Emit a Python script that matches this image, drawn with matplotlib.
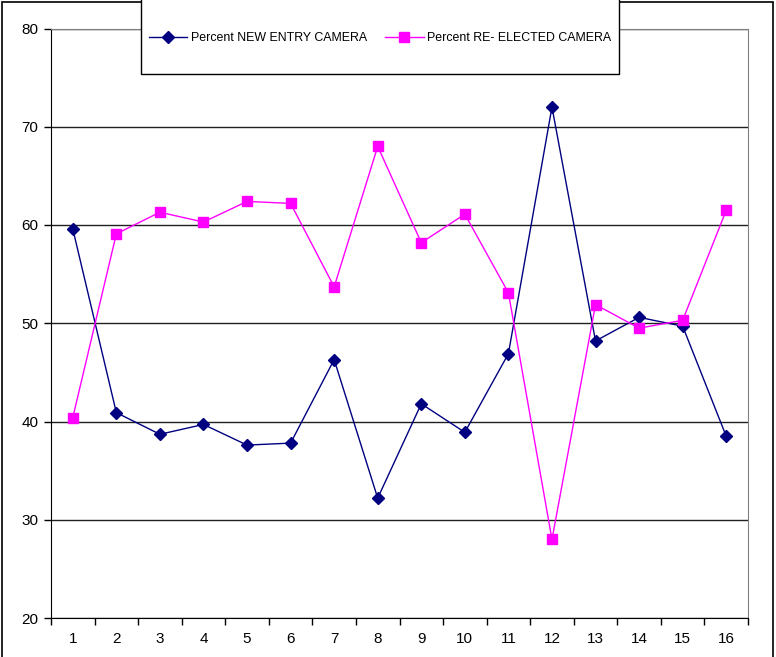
import numpy as np
import matplotlib.pyplot as plt
from matplotlib.patches import Rectangle

plt.rcParams['font.family'] = ['Liberation Sans', 'DejaVu Sans']

cats = list(range(1, 17))
new_entry = [59.6, 40.9, 38.7, 39.7, 37.6, 37.8, 46.3, 32.2,
             41.8, 38.9, 46.9, 72.0, 48.2, 50.6, 49.7, 38.5]
re_elected = [40.4, 59.1, 61.3, 60.3, 62.4, 62.2, 53.7, 68.0,
              58.2, 61.1, 53.1, 28.0, 51.9, 49.5, 50.3, 61.5]

fig = plt.figure(figsize=(7.76, 6.57), dpi=100)
W, H = 776, 657
ax = fig.add_axes([51/W, 1 - 618/H, (748-51)/W, (618-28.5)/H])

ax.plot(cats, new_entry, color='#000080', marker='D', markersize=6.5,
        linewidth=1, label='Percent NEW ENTRY CAMERA')
ax.plot(cats, re_elected, color='#FF00FF', marker='s', markersize=7,
        linewidth=1, label='Percent RE- ELECTED CAMERA')

ax.set_xlim(0.5, 16.5)
ax.set_ylim(20, 80)
ax.set_yticks(range(20, 81, 10))
ax.set_xticks(cats)
ax.set_xticks(np.arange(0.5, 17, 1), minor=True)
ax.tick_params(axis='x', which='major', length=0, pad=10, labelsize=11)
ax.tick_params(axis='x', which='minor', length=5, direction='out', width=1)
ax.tick_params(axis='y', length=5, direction='out', width=1, pad=4, labelsize=11)
ax.grid(axis='y', color='#202020', linewidth=1)
ax.set_axisbelow(True)

for side in ['top', 'right']:
    ax.spines[side].set_color('#808080')
for side in ['left', 'bottom']:
    ax.spines[side].set_color('black')

# outer chart border
fig.patches.append(Rectangle((2/W, -0.01), (773-2)/W, 1 - 2/H + 0.01,
                             transform=fig.transFigure, fill=False,
                             edgecolor='black', linewidth=1.2))
# legend box
fig.patches.append(Rectangle((141/W, 1 - 74/H), (619-141)/W, 80/H,
                             transform=fig.transFigure, fill=True,
                             facecolor='white', edgecolor='black',
                             linewidth=1, zorder=5))
leg = fig.legend(loc='center left', bbox_to_anchor=(138/W, 1 - 38/H),
                 ncol=2, frameon=False, fontsize=8.9, handlelength=3.1,
                 columnspacing=1.5, handletextpad=0.25)
leg.set_zorder(6)

fig.savefig('out.png', dpi=100)
